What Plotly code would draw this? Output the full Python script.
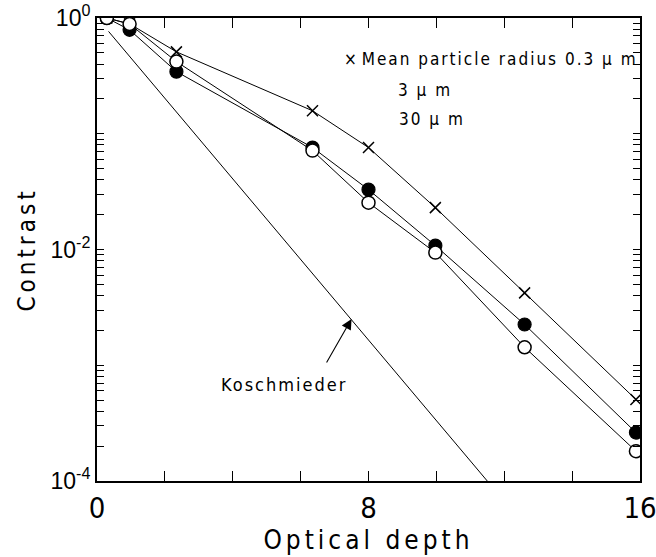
import plotly.graph_objects as go

# Optical depth at which each curve is sampled
depth = [0.29, 0.96, 2.34, 6.35, 8.0, 9.97, 12.6, 15.88]

# Contrast for each mean particle radius
contrast_03um = [1.0, 0.89, 0.51, 0.158, 0.076, 0.023, 0.00422, 0.000506]
contrast_3um = [1.0, 0.79, 0.344, 0.076, 0.0329, 0.0108, 0.00225, 0.000262]
contrast_30um = [1.0, 0.887, 0.42, 0.0715, 0.0254, 0.0094, 0.00143, 0.000181]

# Koschmieder law (straight line on the log axis)
kosch_depth = [0.34, 11.5]
kosch_contrast = [0.766, 0.0001]

x_ticks = [0, 2, 4, 6, 8, 10, 12, 14, 16]
x_labels = ["0", " ", " ", " ", "8", " ", " ", " ", "16"]

y_ticks = [m * 10.0 ** e for e in (-4, -3, -2, -1) for m in range(1, 10)] + [1.0]
y_major = {1.0: "10<sup>0</sup>", 1e-2: "10<sup>-2</sup>", 1e-4: "10<sup>-4</sup>"}
y_labels = [y_major.get(v, " ") for v in y_ticks]

NARROW = "Liberation Sans Narrow, DejaVu Sans Condensed, Arial Narrow, sans-serif"
REGULAR = "Liberation Sans, Arial, sans-serif"


def spaced(text, px):
    return f'<span style="letter-spacing:{px}px">{text}</span>'


fig = go.Figure()

line = dict(color="black", width=1)

fig.add_trace(go.Scatter(
    x=kosch_depth, y=kosch_contrast, mode="lines", line=line, showlegend=False,
))
fig.add_trace(go.Scatter(
    x=depth, y=contrast_03um, mode="lines+markers", line=line, showlegend=False,
    marker=dict(symbol="x-thin", size=11, line=dict(color="black", width=1.5)),
))
fig.add_trace(go.Scatter(
    x=depth, y=contrast_3um, mode="lines+markers", line=line, showlegend=False,
    marker=dict(symbol="circle", size=13, color="black", line=dict(color="black", width=1.2)),
))
fig.add_trace(go.Scatter(
    x=depth, y=contrast_30um, mode="lines+markers", line=line, showlegend=False,
    marker=dict(symbol="circle", size=13, color="white", line=dict(color="black", width=1.5)),
))

fig.update_layout(
    width=656, height=557,
    margin=dict(l=97, r=16, t=18, b=76),
    paper_bgcolor="white", plot_bgcolor="white",
    xaxis=dict(
        range=[0, 16], tickmode="array", tickvals=x_ticks, ticktext=x_labels,
        ticks="inside", ticklen=10, tickwidth=1.2, tickcolor="black",
        showline=True, linecolor="black", linewidth=2, mirror="allticks",
        showgrid=False, zeroline=False, ticklabeloverflow="allow", automargin=False,
        tickfont=dict(family=NARROW, size=29, color="black"),
        title=dict(text=spaced("Optical depth", 4),
                   font=dict(family=NARROW, size=26, color="black"), standoff=6),
    ),
    yaxis=dict(
        type="log", range=[-4, 0], tickmode="array", tickvals=y_ticks, ticktext=y_labels,
        ticks="inside", ticklen=7, tickwidth=1.2, tickcolor="black",
        showline=True, linecolor="black", linewidth=2, mirror="allticks",
        showgrid=False, zeroline=False, automargin=False,
        tickfont=dict(family=REGULAR, size=23, color="black"),
        title=dict(text=spaced("Contrast", 4),
                   font=dict(family=NARROW, size=24, color="black"), standoff=8),
    ),
)

fig.add_annotation(
    x=1.0, y=(481.5 - 59) / 463.5, xref="x domain", yref="y domain",
    xanchor="right", yanchor="middle", showarrow=False,
    text="× " + spaced("Mean particle radius 0.3 μ m", 2),
    font=dict(family=NARROW, size=17, color="black"),
)
fig.add_annotation(
    x=(425 - 97) / 543, y=(481.5 - 90) / 463.5, xref="x domain", yref="y domain",
    xanchor="center", yanchor="middle", showarrow=False,
    text=spaced("3 μ m", 2),
    font=dict(family=NARROW, size=17, color="black"),
)
fig.add_annotation(
    x=(432 - 97) / 543, y=(481.5 - 119) / 463.5, xref="x domain", yref="y domain",
    xanchor="center", yanchor="middle", showarrow=False,
    text=spaced("30 μ m", 2),
    font=dict(family=NARROW, size=17, color="black"),
)
fig.add_annotation(
    x=5.5, y=-3.17, xref="x", yref="y",
    xanchor="center", yanchor="middle", showarrow=False,
    text=spaced("Koschmieder", 2),
    font=dict(family=NARROW, size=18, color="black"),
)
fig.add_annotation(
    x=7.5, y=-2.6, xref="x", yref="y",
    ax=6.74, ay=-2.99, axref="x", ayref="y",
    text="", showarrow=True, arrowhead=2, arrowsize=1.9, arrowwidth=1.1,
    arrowcolor="black", standoff=0,
)

fig.write_html("out.html")
